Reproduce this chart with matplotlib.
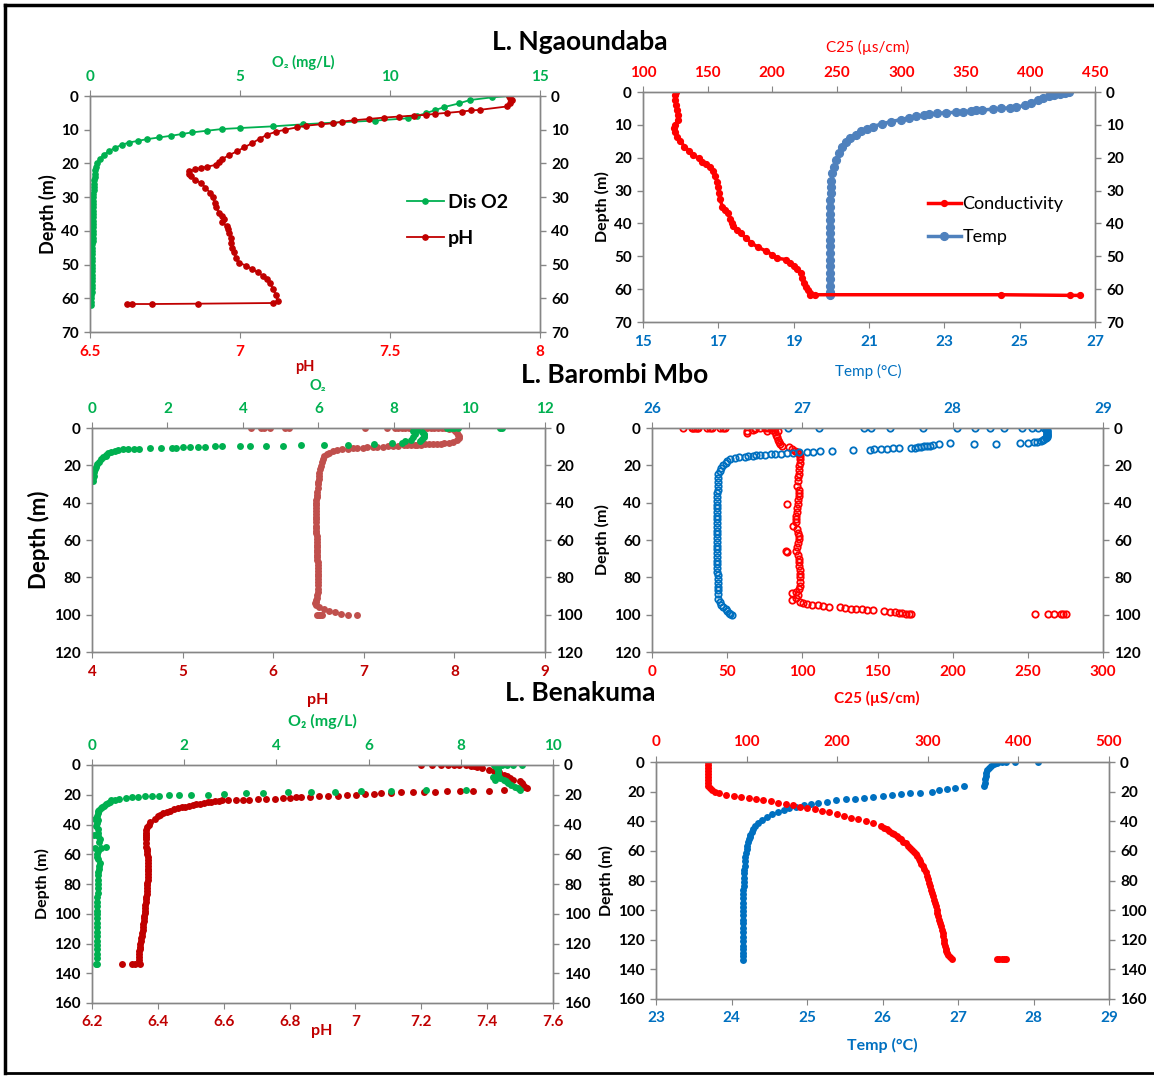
import numpy as np
import matplotlib.pyplot as plt
from matplotlib.lines import Line2D

# --- L. Ngaoundaba, pairs of [depth (m), value] ---
ngao_o2 = [[0, 13.96], [0.4, 13.4], [1.2, 12.66], [2.2, 12.3], [3.3, 11.8], [4.2, 11.5], [5.1, 11.2],
           [5.9, 10.9], [6.6, 10.6], [7.3, 9.5], [7.9, 8.1], [8.4, 7.1], [9.0, 6.1], [9.5, 5.0], [9.8, 4.4],
           [10.3, 3.9], [10.8, 3.4], [11.3, 3.05], [11.8, 2.7], [12.3, 2.3], [12.8, 1.9], [13.3, 1.6],
           [13.8, 1.3], [14.5, 1.05], [15.4, 0.83], [16.4, 0.62], [17.4, 0.46], [18.6, 0.33], [19.9, 0.23],
           [21, 0.2], [22, 0.18], [23, 0.16], [24, 0.15], [25, 0.14], [26, 0.13], [27, 0.125], [28, 0.12],
           [29, 0.115], [30, 0.11], [31, 0.11], [32, 0.11], [33, 0.105], [34, 0.1], [35, 0.1], [36, 0.1],
           [37, 0.1], [38, 0.1], [39, 0.095], [40, 0.09], [41, 0.09], [42, 0.09], [43, 0.085], [44, 0.08],
           [45, 0.08], [46, 0.08], [47, 0.075], [48, 0.07], [49, 0.065], [50, 0.06], [51, 0.06], [52, 0.06],
           [53, 0.055], [54, 0.05], [55, 0.05], [56, 0.05], [57, 0.05], [58, 0.05], [59, 0.045], [60, 0.04],
           [61.2, 0.04], [62, 0.04]]
ngao_ph = [[0, 7.896], [0.5, 7.9], [1.2, 7.908], [2.2, 7.9], [3.1, 7.89], [4.1, 7.8], [4.3, 7.77],
           [4.6, 7.74], [5.0, 7.69], [5.3, 7.65], [5.6, 7.62], [5.8, 7.58], [6.1, 7.53], [6.4, 7.48],
           [6.8, 7.43], [7.2, 7.38], [7.6, 7.34], [8.1, 7.31], [8.4, 7.27], [8.8, 7.22], [9.3, 7.19],
           [10, 7.15], [10.6, 7.12], [11.5, 7.09], [12.7, 7.065], [14, 7.04], [15.2, 7.015], [16.4, 6.99],
           [17.5, 6.965], [18.7, 6.94], [19.6, 6.93], [20.4, 6.92], [21, 6.89], [21.3, 6.87], [21.8, 6.85],
           [22.3, 6.83], [23, 6.83], [23.8, 6.835], [24.8, 6.85], [25.8, 6.87], [27.2, 6.885], [28.7, 6.9],
           [30, 6.91], [31.7, 6.915], [33, 6.92], [34.6, 6.93], [35.6, 6.94], [36.6, 6.945], [37.5, 6.94],
           [38.5, 6.955], [39.5, 6.96], [40.5, 6.965], [42, 6.97], [43.5, 6.97], [45, 6.975], [46.4, 6.98],
           [48, 6.985], [49.4, 6.995], [50.3, 7.02], [51.3, 7.04], [52.3, 7.06], [53.3, 7.075], [54.3, 7.09],
           [55.5, 7.1], [57.2, 7.11], [59, 7.12], [60.7, 7.125], [61.4, 7.11], [61.6, 6.86], [61.7, 6.706],
           [61.7, 6.64], [61.7, 6.622]]
ngao_cond = [[0, 125.2], [1, 125], [2.4, 125], [4, 125.5], [5.5, 126], [7, 127], [8.5, 127], [10, 125],
             [11, 124], [12.3, 125], [13.6, 126], [15, 129], [16.6, 132], [18, 136], [19.1, 139], [20.2, 143],
             [21.2, 146], [22, 149], [22.7, 151.6], [24, 154], [25.7, 156], [27.5, 157.5], [29, 158.2],
             [30.8, 158.7], [32.5, 159.5], [34.9, 161.5], [36, 163.5], [36.9, 165.8], [38.5, 167.5],
             [40, 169], [40.9, 170], [42, 172.5], [43, 175.7], [44.5, 180], [46, 184], [47.2, 189],
             [48.5, 195.6], [49.5, 200], [50.6, 204], [51, 211], [52, 214], [53, 216.8], [54, 219.5],
             [55, 222.5], [56.5, 223.5], [58.2, 225], [59.2, 226.5], [60.2, 228], [61.2, 229], [61.7, 229.6],
             [61.7, 233], [61.7, 377], [61.9, 431], [61.9, 438]]
ngao_temp = [[0, 26.3], [0.3, 26.2], [0.6, 26.06], [0.9, 25.9], [1.2, 25.77], [1.8, 25.62], [2.4, 25.48],
             [3.2, 25.3], [4, 25.14], [4.7, 24.9], [4.8, 24.75], [5, 24.5], [5.2, 24.3], [5.5, 24.0],
             [5.6, 23.85], [5.8, 23.7], [6, 23.5], [6.2, 23.3], [6.3, 23.04], [6.5, 22.8], [6.7, 22.6],
             [7, 22.46], [7.4, 22.25], [7.8, 22.07], [8.4, 21.85], [9, 21.59], [9.7, 21.35], [10.5, 21.1],
             [11.2, 20.95], [12, 20.8], [13, 20.65], [14, 20.5], [15.2, 20.38], [16.6, 20.27], [18.5, 20.2],
             [20.7, 20.13], [22.7, 20.08], [24.7, 20.03], [27, 20.0], [29, 19.99], [30.8, 19.98], [33, 19.97],
             [35, 19.96], [37, 19.96], [39, 19.96], [41, 19.96], [43, 19.96], [45, 19.96], [47, 19.96],
             [49, 19.96], [51, 19.96], [53, 19.96], [55, 19.96], [57, 19.96], [59, 19.96], [61, 19.96],
             [61.7, 19.96]]

# --- L. Barombi Mbo ---
barombi_o2 = [[0, 9.4], [0, 9.5], [0, 9.6], [0, 9.7], [0, 10.8], [0, 10.85], [1, 8.6], [2, 8.75], [3, 8.8],
              [4, 8.8], [5, 8.8], [6, 8.75], [7, 8.7], [1.5, 8.5], [3, 8.55], [5, 8.5], [6.5, 8.45], [7, 8.3],
              [7.8, 8.2], [8.3, 7.96], [8.7, 7.47], [8.9, 6.78], [9.3, 6.15], [9.3, 5.53], [9.4, 5.07],
              [9.6, 4.6], [9.6, 4.19], [9.6, 3.92], [9.7, 3.45], [9.8, 3.25], [10, 3.0], [10.1, 2.8],
              [10.1, 2.6], [10.2, 2.42], [10.5, 2.23], [10.5, 2.13], [10.7, 1.83], [10.8, 1.54], [11, 1.25],
              [11, 1.1], [11, 0.95], [11.3, 0.82], [11.7, 0.7], [12.2, 0.6], [12.8, 0.5], [13.5, 0.43],
              [14.3, 0.38], [15, 0.36], [15.8, 0.3], [16.7, 0.24], [18, 0.19], [19.4, 0.14], [20.7, 0.1],
              [22, 0.07], [23.5, 0.05], [25.6, 0.04], [27, 0.03], [28.3, 0.02]]
barombi_ph = [[0, 5.76], [0, 5.86], [0, 5.9], [0, 5.96], [0, 6.13], [0, 6.17], [0, 7.01], [0, 7.26],
              [0, 7.34], [0, 7.38], [0, 7.42], [0, 7.46], [0, 7.5], [0, 7.54], [0, 7.58], [0, 7.62],
              [0, 7.66], [0, 7.7], [0, 7.74], [0, 7.78], [0, 7.82], [0, 7.86], [0, 7.9], [0.3, 7.94],
              [0.8, 7.98], [1.5, 8.01], [2.5, 8.03], [3.5, 8.04], [4.5, 8.05], [5.5, 8.05], [6.5, 8.03],
              [7.3, 7.99], [7.9, 7.94], [8.2, 7.89], [8.4, 7.85], [8.5, 7.81], [8.6, 7.76], [8.7, 7.72],
              [8.8, 7.68], [8.9, 7.63], [8.9, 7.59], [8.9, 7.56], [9.0, 7.52], [9.1, 7.48], [9.3, 7.44],
              [9.5, 7.38], [9.6, 7.32], [9.8, 7.27], [10.0, 7.21], [10.1, 7.15], [10.3, 7.1], [10.4, 7.04],
              [10.5, 6.99], [10.7, 6.93], [10.8, 6.88], [11, 6.83], [11.4, 6.76], [11.9, 6.7], [12.5, 6.66],
              [13.2, 6.62], [14, 6.59], [15, 6.56], [16.5, 6.55], [18, 6.54], [20.3, 6.53], [22, 6.52],
              [24, 6.51], [25.7, 6.505], [27.4, 6.5], [29, 6.495], [30, 6.49], [32, 6.49], [34.5, 6.48],
              [36, 6.48], [37, 6.48], [38.5, 6.475], [40, 6.47], [41.5, 6.47], [43, 6.47], [44.5, 6.47],
              [46, 6.47], [47.5, 6.47], [49, 6.47], [50.5, 6.47], [52.3, 6.47], [53.5, 6.47], [55, 6.47],
              [56.5, 6.475], [58, 6.48], [59.5, 6.48], [61, 6.48], [62.5, 6.48], [64, 6.48], [65.3, 6.48],
              [66.6, 6.48], [68, 6.48], [69, 6.48], [70.5, 6.485], [72, 6.49], [73.5, 6.49], [75, 6.49],
              [76.5, 6.49], [78, 6.49], [79.5, 6.49], [81, 6.49], [82.5, 6.49], [84, 6.49], [86, 6.49],
              [88, 6.49], [89.5, 6.485], [91, 6.48], [92, 6.475], [93, 6.47], [94, 6.46], [95, 6.47],
              [96, 6.5], [97, 6.56], [98, 6.62], [98.8, 6.68], [99.5, 6.75], [100, 6.83], [100, 6.92],
              [100, 6.48], [100, 6.52], [100, 6.54], [100, 6.5]]
barombi_temp = [[0, 26.906], [0, 27.11], [0, 27.41], [0, 27.46], [0, 27.58], [0, 27.8], [0, 28.03],
                [0, 28.15], [0, 28.25], [0, 28.34], [0, 28.46], [0, 28.53], [0, 28.57], [0, 28.61],
                [0.5, 28.62], [1, 28.63], [1.5, 28.63], [2, 28.63], [2.5, 28.63], [3, 28.63], [3.5, 28.63],
                [4, 28.63], [4.5, 28.63], [5, 28.63], [5.5, 28.62], [6, 28.61], [6.5, 28.6], [7, 28.59],
                [7.3, 28.56], [7.5, 28.54], [7.8, 28.5], [7.8, 28.45], [8.4, 28.29], [8.4, 28.14],
                [8.2, 27.98], [8.7, 27.91], [9.2, 27.87], [9.4, 27.85], [9.6, 27.83], [9.8, 27.81],
                [10, 27.79], [10.2, 27.77], [10.5, 27.75], [10.7, 27.72], [10.9, 27.64], [10.9, 27.6],
                [11.1, 27.56], [11.4, 27.52], [11.5, 27.48], [11.7, 27.45], [11.7, 27.34], [12.1, 27.2],
                [12.1, 27.12], [12.6, 27.07], [12.6, 27.03], [12.8, 26.98], [13.2, 26.94], [13.5, 26.9],
                [13.7, 26.86], [13.9, 26.82], [14.1, 26.79], [14.3, 26.75], [14.4, 26.72], [14.6, 26.69],
                [14.8, 26.67], [15.1, 26.64], [15.4, 26.62], [15.8, 26.58], [16.2, 26.55], [16.7, 26.52],
                [17.5, 26.5], [18.5, 26.49], [19.8, 26.47], [21.2, 26.46], [23, 26.45], [24.7, 26.44],
                [27, 26.44], [29, 26.44], [31, 26.44], [33, 26.44], [35, 26.435], [37, 26.435], [39, 26.43],
                [41, 26.43], [43, 26.43], [45, 26.43], [47, 26.43], [49, 26.43], [51, 26.43], [53, 26.43],
                [55, 26.43], [57, 26.43], [59, 26.43], [61, 26.43], [63, 26.43], [65, 26.43], [67, 26.43],
                [69, 26.43], [71, 26.435], [73, 26.435], [75, 26.435], [77, 26.435], [79, 26.44], [81, 26.44],
                [83, 26.44], [85, 26.44], [87, 26.44], [89, 26.44], [91.5, 26.44], [93, 26.45], [95, 26.46],
                [96, 26.47], [97.2, 26.49], [98, 26.5], [99, 26.51], [99.6, 26.52], [100, 26.53]]
barombi_cond = [[0, 20.8], [0, 26.4], [0, 27.5], [0, 28.6], [0, 29.7], [0, 30.8], [0, 36.4], [0, 38.6],
                [0, 39.7], [0, 45.2], [0, 47], [0, 48.5], [0, 68.5], [0, 71.8], [0, 75.2], [0, 77.4],
                [0, 79.6], [0, 81.8], [1.5, 63], [2.5, 63.2], [1.2, 67.4], [0.8, 68.7], [1.5, 76.3],
                [1.6, 83.8], [1, 80], [2.4, 82], [3.5, 82.5], [5, 83], [6.3, 83.6], [7.7, 84.2], [8.6, 85],
                [9.5, 86.4], [10.4, 90.9], [11.3, 93], [12.2, 95.3], [13, 96.5], [14, 97.5], [15, 98.2],
                [16.7, 98.4], [18.5, 98.2], [20.5, 98], [22.5, 97.8], [24.5, 97.6], [26.5, 97.2],
                [28.5, 96.8], [31, 96.4], [33, 97.5], [35, 97.9], [36.5, 97.5], [38.5, 97.2], [40.8, 96.9],
                [40.8, 89.9], [43, 96.5], [45, 96.2], [47, 96], [49, 96], [50.6, 95.9], [52.3, 94],
                [54, 96.5], [56, 97.4], [57.8, 97.8], [59.5, 97.9], [61.5, 97], [63.5, 96.3], [65.7, 95.9],
                [65.7, 89.4], [66.5, 90], [68, 96.8], [70, 97.5], [72, 97.9], [74, 98], [76, 98.2],
                [78, 98.3], [80, 98.4], [82.6, 98.4], [84.5, 98.2], [86.2, 97.9], [88.3, 92.8], [88, 96],
                [89.7, 97.2], [91, 96], [92.4, 92.8], [93.3, 98.4], [94, 100.5], [94.2, 103.2], [94.6, 106.5],
                [95, 110.5], [95.4, 114], [95.8, 117.8], [96.1, 125], [96.5, 128.5], [96.8, 132.4],
                [97, 136], [97.2, 139.7], [97.5, 143], [97.7, 147], [98.3, 154.2], [98.5, 158],
                [98.6, 161.5], [99, 164], [99.2, 166.4], [99.5, 169], [99.7, 171.2], [99.7, 172.5],
                [99.7, 254.6], [99.7, 263.5], [99.7, 267.2], [99.9, 272], [99.9, 273.7], [99.9, 275.2]]

# --- L. Benakuma ---
bena_o2 = [[0, 8.73], [0, 8.81], [0, 8.89], [0, 9.0], [0, 9.13], [0, 9.33], [1, 8.75], [2, 8.78], [3, 8.8],
           [4.5, 8.8], [6, 8.8], [7.6, 8.81], [8.5, 8.85], [9.9, 8.93], [11, 8.98], [12, 9.03], [13.3, 9.09],
           [14.5, 9.17], [15.5, 9.25], [16.6, 9.29], [8, 8.7], [10, 8.75], [17, 8.11], [16.6, 7.24],
           [17.3, 6.48], [17.8, 5.84], [18.2, 5.28], [18.4, 4.76], [18.4, 4.26], [18.9, 3.71], [18.9, 3.33],
           [19.6, 2.86], [20, 2.51], [20.2, 2.14], [20.4, 1.89], [20.5, 1.66], [20.9, 1.46], [21.1, 1.3],
           [21.1, 1.14], [21.3, 1.0], [21.8, 0.86], [22.2, 0.74], [22.9, 0.58], [23.4, 0.5], [23.8, 0.42],
           [24.7, 0.38], [25.6, 0.34], [26.5, 0.3], [27.4, 0.26], [28.2, 0.22], [29, 0.19], [30, 0.16],
           [31, 0.14], [32.5, 0.12], [34.6, 0.1], [36, 0.06], [37, 0.14], [39, 0.1], [41, 0.08], [43, 0.12],
           [45.8, 0.14], [47, 0.04], [48, 0.12], [50, 0.18], [52, 0.15], [54.8, 0.3], [55.5, 0.2], [56, 0.06],
           [58, 0.12], [60, 0.1], [61.6, 0.11], [63, 0.14], [66, 0.18], [68, 0.16], [70, 0.15], [72, 0.12],
           [74, 0.14], [77, 0.14], [80, 0.13], [83, 0.12], [86, 0.12], [89, 0.11], [92, 0.11], [95, 0.11],
           [98, 0.11], [100, 0.11], [103, 0.1], [106, 0.1], [109, 0.1], [112, 0.1], [115, 0.1], [118, 0.1],
           [121, 0.1], [124, 0.1], [127, 0.1], [130, 0.1], [133.5, 0.1], [133.5, 0.08]]
bena_ph = [[0, 7.2], [0, 7.234], [0, 7.26], [0, 7.28], [0, 7.3], [0, 7.315], [0, 7.335], [0.5, 7.35],
           [1, 7.36], [1.6, 7.37], [2.3, 7.385], [3.1, 7.405], [4, 7.42], [5, 7.435], [6.5, 7.45],
           [7.5, 7.46], [8.5, 7.47], [9.9, 7.48], [11, 7.5], [12, 7.505], [13.3, 7.51], [14.5, 7.515],
           [15.5, 7.52], [15, 7.505], [16.6, 7.45], [17.2, 7.405], [17.3, 7.358], [17.5, 7.319],
           [17.8, 7.278], [18.2, 7.242], [18.2, 7.209], [18.3, 7.175], [18.4, 7.139], [18.9, 7.107],
           [18.9, 7.079], [19.3, 7.057], [19.6, 7.029], [20, 7.003], [20.4, 6.975], [20.7, 6.947],
           [21.1, 6.916], [21.1, 6.888], [21.6, 6.863], [21.6, 6.834], [21.8, 6.82], [22.2, 6.8],
           [22.2, 6.78], [22.7, 6.755], [22.9, 6.728], [22.9, 6.703], [23.4, 6.677], [23.4, 6.658],
           [23.4, 6.638], [23.4, 6.613], [23.8, 6.596], [24.2, 6.585], [24.5, 6.573], [24.8, 6.562],
           [25.2, 6.551], [25.6, 6.54], [26, 6.528], [26.3, 6.517], [26.7, 6.506], [27.3, 6.494],
           [27.9, 6.483], [28.4, 6.472], [29, 6.461], [29.8, 6.45], [30.6, 6.438], [31.5, 6.427],
           [32.4, 6.416], [33.5, 6.407], [34.6, 6.399], [36, 6.39], [38, 6.377], [40, 6.372], [42, 6.367],
           [43.6, 6.365], [45.5, 6.365], [47, 6.365], [48.5, 6.365], [50, 6.365], [52.5, 6.365],
           [54.8, 6.365], [56.5, 6.366], [58, 6.367], [60, 6.368], [62, 6.369], [64, 6.369], [66, 6.369],
           [68, 6.369], [70, 6.369], [71.5, 6.37], [73, 6.37], [75, 6.37], [77.3, 6.369], [79, 6.368],
           [81, 6.368], [83, 6.367], [85, 6.367], [87, 6.366], [88.5, 6.365], [90, 6.364], [92, 6.363],
           [94, 6.362], [96, 6.362], [98, 6.361], [99.8, 6.36], [101.5, 6.359], [103, 6.358], [105, 6.357],
           [107, 6.356], [109, 6.355], [111, 6.354], [113, 6.352], [115, 6.351], [116.5, 6.35], [118, 6.348],
           [120, 6.347], [122.2, 6.346], [123.5, 6.345], [125, 6.344], [127, 6.343], [129, 6.343],
           [131, 6.344], [133.5, 6.346], [133.5, 6.332], [133.5, 6.32], [133.5, 6.292]]
bena_cond = [[0, 57.8], [2, 57.8], [4, 57.8], [6, 57.8], [8, 57.8], [10, 57.8], [12, 57.8], [14, 57.8],
             [16.2, 57.8], [17.5, 59.5], [18.9, 61.9], [20, 65], [21.2, 70], [22, 77], [23, 86.2],
             [23.6, 94], [24.3, 102.3], [25, 110], [25.7, 118.5], [26.6, 126.5], [27.5, 134.7],
             [28.4, 143], [29.3, 150.9], [30.2, 159], [31.1, 167], [32, 175], [32.9, 183.3], [34, 191],
             [35.2, 199.4], [36.4, 207.5], [37.6, 215.6], [38.7, 223.5], [39.9, 231.8], [41.5, 240],
             [43.3, 248], [44.4, 251.3], [45.5, 254.5], [46.6, 257.3], [47.8, 260], [48.9, 262.7],
             [50, 265.5], [51.2, 267.9], [52.3, 270.2], [53.7, 272.9], [55, 275.5], [56.5, 277.9],
             [57.9, 280.3], [59.2, 282.5], [60.5, 284.5], [62, 286.5], [63.5, 288.4], [65.2, 290],
             [67, 291.5], [68.6, 293], [70.3, 294.5], [72.4, 296], [74.5, 297.5], [77, 299], [79.3, 300.6],
             [81.6, 301.6], [84, 302.6], [86.2, 303.6], [88.3, 304.6], [90.6, 305.6], [93, 306.7],
             [95.2, 307.7], [97.4, 308.7], [99.7, 309.7], [102, 310.7], [104.2, 311.7], [106.4, 312.7],
             [108.7, 313.7], [111, 314.7], [113.2, 315.7], [115.4, 316.7], [117.7, 317.2], [120, 317.8],
             [122.2, 318.3], [124.4, 318.8], [126, 319.6], [127.5, 320.5], [128.8, 321.6], [130, 322.8],
             [131.7, 324.5], [133, 326.9], [133, 376.6], [133, 379], [133, 381.5], [133, 384], [133, 386.3]]
bena_temp = [[0, 27.53], [0, 27.58], [0, 27.63], [0, 27.75], [0, 28.06], [0.6, 27.52], [1.6, 27.48],
             [2.6, 27.44], [3.8, 27.41], [5.5, 27.39], [7.2, 27.37], [9.5, 27.365], [11.7, 27.36],
             [14, 27.355], [16.2, 27.35], [16.2, 27.08], [17.3, 26.96], [18.5, 26.85], [19.2, 26.75],
             [20, 26.66], [20.6, 26.5], [21.2, 26.36], [21.8, 26.24], [22.5, 26.12], [23, 26.0],
             [23.4, 25.88], [24.1, 25.76], [24.8, 25.64], [25.3, 25.52], [25.9, 25.39], [26.7, 25.27],
             [27.5, 25.15], [28.3, 25.05], [29.1, 24.96], [30.1, 24.86], [31.1, 24.76], [32.4, 24.69],
             [33.8, 24.62], [35.4, 24.54], [37, 24.47], [39, 24.41], [41, 24.35], [43, 24.31],
             [45.5, 24.28], [47, 24.265], [49, 24.25], [50.5, 24.24], [52.3, 24.23], [54, 24.22],
             [56.5, 24.21], [59, 24.2], [61.3, 24.19], [64, 24.185], [67, 24.18], [70, 24.175],
             [72.6, 24.17], [75, 24.167], [78, 24.165], [81, 24.162], [83.8, 24.16], [86.5, 24.157],
             [89, 24.155], [92, 24.152], [95, 24.15], [98, 24.15], [100.5, 24.15], [103.5, 24.15],
             [106.4, 24.15], [109, 24.15], [112, 24.15], [115, 24.15], [118, 24.15], [121, 24.15],
             [124, 24.15], [126.5, 24.15], [129, 24.15], [131, 24.15], [133.4, 24.15]]

# --- axis ticks ---
depth70 = [0, 10, 20, 30, 40, 50, 60, 70]
depth120 = [0, 20, 40, 60, 80, 100, 120]
depth160 = [0, 20, 40, 60, 80, 100, 120, 140, 160]
ngao_ph_ticks = [6.5, 7, 7.5, 8]
ngao_o2_ticks = [0, 5, 10, 15]
ngao_temp_ticks = [15, 17, 19, 21, 23, 25, 27]
ngao_cond_ticks = [100, 150, 200, 250, 300, 350, 400, 450]
barombi_ph_ticks = [4, 5, 6, 7, 8, 9]
barombi_o2_ticks = [0, 2, 4, 6, 8, 10, 12]
barombi_cond_ticks = [0, 50, 100, 150, 200, 250, 300]
barombi_temp_ticks = [26, 27, 28, 29]
bena_ph_ticks = [6.2, 6.4, 6.6, 6.8, 7, 7.2, 7.4, 7.6]
bena_o2_ticks = [0, 2, 4, 6, 8, 10]
bena_temp_ticks = [23, 24, 25, 26, 27, 28, 29]
bena_cond_ticks = [0, 100, 200, 300, 400, 500]

W, H = 1154, 1076
GREEN = '#00B050'
DARKRED = '#C00000'
RED = '#FF0000'
BLUE = '#0070C0'
STEEL = '#4F81BD'
BROWN = '#C0504D'
GRAY = '#868686'

plt.rcParams['font.family'] = ['Lato', 'DejaVu Sans']
plt.rcParams['font.weight'] = 'bold'
plt.rcParams['axes.labelweight'] = 'bold'


def cols(pairs):
    a = np.array(pairs, dtype=float)
    return a[:, 1], a[:, 0]


def set_ticks(axis, ticks):
    axis.set_ticks(ticks)
    axis.set_ticklabels([f'{t:g}' for t in ticks])


def panel(fig, box, depth, bot, bot_color, top, top_color, depth_size):
    left, top_px, right, bottom = box
    ax = fig.add_axes([left / W, 1 - bottom / H, (right - left) / W, (bottom - top_px) / H])
    axt = ax.twiny()
    ax.set_ylim(depth[-1], depth[0])
    set_ticks(ax.yaxis, depth)
    ax.set_xlim(bot[0], bot[-1])
    set_ticks(ax.xaxis, bot)
    axt.set_xlim(top[0], top[-1])
    set_ticks(axt.xaxis, top)
    ax.tick_params(axis='y', left=True, right=True, labelleft=True, labelright=True,
                   direction='out', length=4, width=1, color=GRAY, labelsize=11, pad=4)
    ax.tick_params(axis='x', direction='out', length=4, color=GRAY, labelcolor=bot_color,
                   labelsize=11, pad=5)
    axt.tick_params(axis='x', direction='out', length=4, color=GRAY, labelcolor=top_color,
                    labelsize=11, pad=5)
    for a in (ax, axt):
        for s in a.spines.values():
            s.set_color(GRAY)
            s.set_linewidth(1)
    ax.set_ylabel('Depth (m)', fontsize=depth_size, labelpad=3)
    return ax, axt


def main():
    fig = plt.figure(figsize=(W / 100, H / 100), dpi=100)

    # frame
    fig.add_artist(Line2D([5 / W, 5 / W], [1 - 1073 / H, 1 - 5 / H], color='black', lw=2.5))
    fig.add_artist(Line2D([5 / W, 1], [1 - 5 / H, 1 - 5 / H], color='black', lw=2.5))
    fig.add_artist(Line2D([5 / W, 1], [1 - 1073 / H, 1 - 1073 / H], color='black', lw=2))

    # titles
    fig.text(580 / W, 1 - 42 / H, 'L. Ngaoundaba', ha='center', va='center', fontsize=19)
    fig.text(615 / W, 1 - 375 / H, 'L. Barombi Mbo', ha='center', va='center', fontsize=19)
    fig.text(580 / W, 1 - 693 / H, 'L. Benakuma', ha='center', va='center', fontsize=19)

    # L. Ngaoundaba, O2 / pH
    ax, axt = panel(fig, (90, 96, 540, 332), depth70, ngao_ph_ticks, RED, ngao_o2_ticks, GREEN, 13)
    x, y = cols(ngao_o2)
    l1, = axt.plot(x, y, '-o', color=GREEN, lw=1.3, ms=3.8, label='Dis O2')
    x, y = cols(ngao_ph)
    l2, = axt.plot((x - 6.5) * 10, y, '-o', color=DARKRED, lw=1.3, ms=3.8, label='pH')
    axt.legend(handles=[l1, l2], loc='upper left', bbox_to_anchor=(397 / W, 1 - 184 / H),
               bbox_transform=fig.transFigure, frameon=False, fontsize=14, handlelength=1.9,
               handletextpad=0.2, labelspacing=1.0, borderpad=0)
    fig.text(303 / W, 1 - 62 / H, 'O₂ (mg/L)', color=GREEN, ha='center', va='center', fontsize=10.5)
    fig.text(305 / W, 1 - 367 / H, 'pH', color=DARKRED, ha='center', va='center', fontsize=10.5)

    # L. Ngaoundaba, conductivity / temperature
    ax, axt = panel(fig, (643, 92, 1095, 322), depth70, ngao_temp_ticks, BLUE, ngao_cond_ticks, RED, 11.5)
    x, y = cols(ngao_cond)
    l1, = axt.plot(x, y, '-o', color=RED, lw=2.5, ms=4.2, label='Conductivity')
    x, y = cols(ngao_temp)
    l2, = ax.plot(x, y, '-o', color=STEEL, lw=2.5, ms=5.6, label='Temp')
    axt.legend(handles=[l1, l2], loc='upper left', bbox_to_anchor=(919 / W, 1 - 187 / H),
               bbox_transform=fig.transFigure, frameon=False, handlelength=1.8,
               handletextpad=0.1, labelspacing=0.95, borderpad=0, prop={'weight': 'normal', 'size': 13})
    fig.text(868 / W, 1 - 47 / H, 'C25 (µs/cm)', color=RED, ha='center', va='center',
             fontsize=11, fontweight='normal')
    fig.text(868 / W, 1 - 371 / H, 'Temp (°C)', color=BLUE, ha='center', va='center',
             fontsize=11, fontweight='normal')

    # L. Barombi Mbo, O2 / pH
    ax, axt = panel(fig, (92, 428, 545, 652), depth120, barombi_ph_ticks, DARKRED,
                    barombi_o2_ticks, GREEN, 16)
    x, y = cols(barombi_ph)
    ax.plot(x, y, 'o', color=BROWN, ms=5, mec='none')
    x, y = cols(barombi_o2)
    axt.plot(x, y, 'o', color=GREEN, ms=5, mec='none')
    fig.text(318 / W, 1 - 386 / H, 'O₂', color=GREEN, ha='center', va='center', fontsize=10.5)

    # L. Barombi Mbo, temperature / conductivity
    ax, axt = panel(fig, (652, 428, 1103, 652), depth120, barombi_cond_ticks, RED,
                    barombi_temp_ticks, BLUE, 11.5)
    x, y = cols(barombi_cond)
    ax.plot(x, y, 'o', color=RED, ms=4.6, mfc='none', mew=1.3)
    x, y = cols(barombi_temp)
    axt.plot(x, y, 'o', color=BLUE, ms=4.6, mfc='none', mew=1.3)
    fig.text(877 / W, 1 - 698 / H, 'C25 (µS/cm)', color=RED, ha='center', va='center', fontsize=11)

    # L. Benakuma, O2 / pH
    ax, axt = panel(fig, (92, 765, 553, 1003), depth160, bena_ph_ticks, DARKRED, bena_o2_ticks, GREEN, 11.5)
    x, y = cols(bena_o2)
    axt.plot(x, y, 'o', color=GREEN, ms=5, mec='none')
    x, y = cols(bena_ph)
    ax.plot(x, y, 'o', color=DARKRED, ms=5, mec='none')
    fig.text(318 / W, 1 - 700 / H, 'pH', color=DARKRED, ha='center', va='center', fontsize=11.5)
    fig.text(322 / W, 1 - 721 / H, 'O₂ (mg/L)', color=GREEN, ha='center', va='center', fontsize=11.5)
    fig.text(322 / W, 1 - 1031 / H, 'pH', color=DARKRED, ha='center', va='center', fontsize=11.5)

    # L. Benakuma, temperature / conductivity
    ax, axt = panel(fig, (656, 762, 1109, 999), depth160, bena_temp_ticks, BLUE, bena_cond_ticks, RED, 11.5)
    x, y = cols(bena_cond)
    axt.plot(x, y, 'o', color=RED, ms=5, mec='none')
    x, y = cols(bena_temp)
    ax.plot(x, y, 'o', color=BLUE, ms=5, mec='none')
    fig.text(882 / W, 1 - 1045 / H, 'Temp (°C)', color=BLUE, ha='center', va='center', fontsize=11.5)

    fig.savefig('out.png', dpi=100)


if __name__ == '__main__':
    main()
